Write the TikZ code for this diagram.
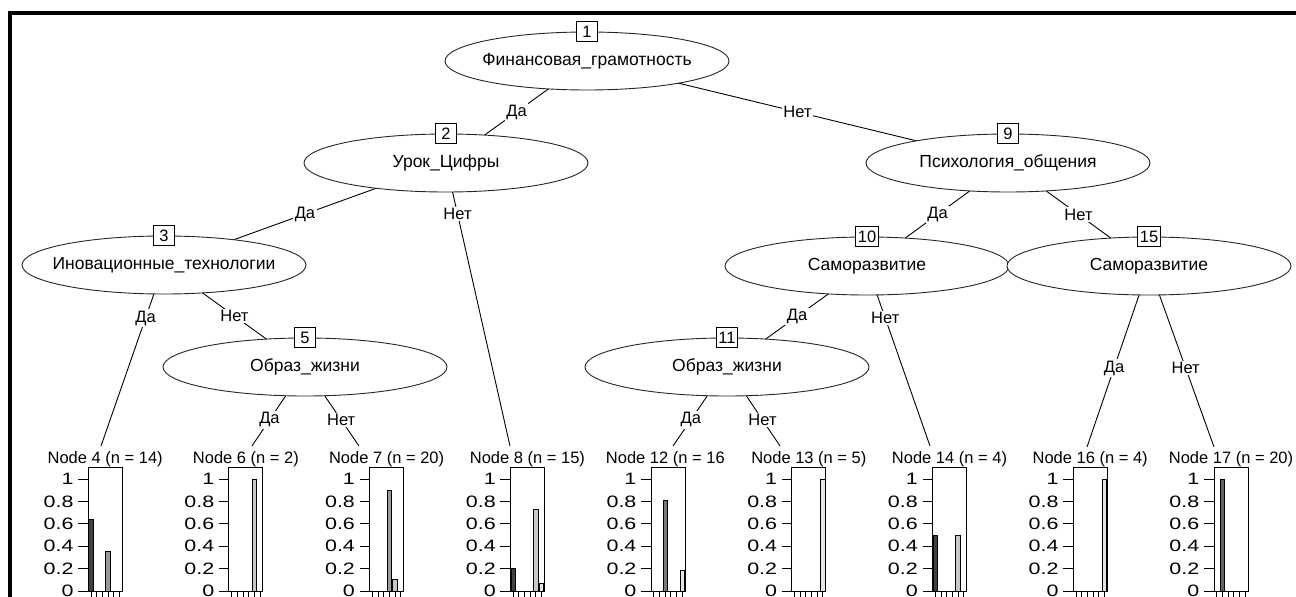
\documentclass[tikz,border=0pt]{standalone}
\usepackage{fontspec}
\usepackage{graphicx}
\setmainfont{Liberation Sans}
\usetikzlibrary{shapes.geometric,backgrounds}
\definecolor{c1}{gray}{0.25}
\definecolor{c2}{gray}{0.38}
\definecolor{c3}{gray}{0.48}
\definecolor{c4}{gray}{0.6}
\definecolor{c5}{gray}{0.78}
\definecolor{c6}{gray}{0.9}
\newcommand\leafpanel[4]{%
  \node[ltitle] (t#1) at (#2,459) {#3};
  \node[plotbox] (p#1) at (#2,529.25) {};
  \foreach \v/\lab [count=\k] in {0/0,0.2/0.2,0.4/0.4,0.6/0.6,0.8/0.8,1/1}{
    \draw[axisline] ({#2-17},{591-112*\v}) -- ++(-10,0);
    \node[ylab] (y#1x\k) at ({#2-31.5},{591-112*\v}) {\scalebox{1.3}[1]{\lab}};
  }
  \foreach \s/\val in {#4}{
    \draw[barstyle,fill=c\s] ({#2-17+(\s-1)*34/6+0.6},591) rectangle ({#2-17+\s*34/6-0.6},{591-112*\val});
  }
  \foreach \s in {1,...,6}{
    \draw[axisline] ({#2-17+(\s-0.5)*34/6},591) -- ++(0,8);
  }
}
\newcommand\ztext[1]{\makebox[0pt][c]{#1}}
\begin{document}
\begin{tikzpicture}[x=1pt,y=-1pt,
  font=\fontsize{16.5}{20}\selectfont,
  inner/.style={ellipse, draw=black!85, fill=white, minimum width=284pt, minimum height=58pt, inner sep=0pt, line width=0.9pt, font=\fontsize{17.5}{20}\selectfont},
  idbox/.style={draw, fill=white, minimum width=21pt, minimum height=20pt, inner sep=2pt, line width=1pt},
  elab/.style={fill=white, inner sep=1.5pt},
  edgeline/.style={line width=0.9pt},
  ltitle/.style={inner sep=0pt},
  plotbox/.style={draw, minimum width=34pt, minimum height=123.5pt, inner sep=0pt, line width=1pt},
  axisline/.style={line width=1pt},
  ylab/.style={anchor=east, inner sep=0pt},
  barstyle/.style={draw, line width=0.8pt}]
\useasboundingbox (0,0) rectangle (1296,597);
\draw[line width=4pt] (10,605) -- (10,12.5) -- (1305,12.5);

% inner nodes
\node[inner] (n1) at (587,61) {\ztext{Финансовая\_грамотность}};
\node[inner] (n2) at (446,163) {\ztext{Урок\_Цифры}};
\node[inner] (n9) at (1008,163) {\ztext{Психология\_общения}};
\node[inner] (n3) at (164,265) {\ztext{Иновационные\_технологии}};
\node[inner] (n10) at (867,266) {\ztext{Саморазвитие}};
\node[inner] (n15) at (1149,266) {\ztext{Саморазвитие}};
\node[inner] (n5) at (305,367) {\ztext{Образ\_жизни}};
\node[inner] (n11) at (727,367) {\ztext{Образ\_жизни}};

\node[idbox] (b1) at (n1.north) {1};
\node[idbox] (b2) at (n2.north) {2};
\node[idbox] (b9) at (n9.north) {9};
\node[idbox] (b3) at (n3.north) {3};
\node[idbox] (b10) at (n10.north) {10};
\node[idbox] (b15) at (n15.north) {15};
\node[idbox] (b5) at (n5.north) {5};
\node[idbox] (b11) at (n11.north) {11};

% leaf attach points
\coordinate (a4) at (101,446);
\coordinate (a6) at (252,446);
\coordinate (a7) at (359,446);
\coordinate (a8) at (510,446);
\coordinate (a12) at (673,446);
\coordinate (a13) at (780,446);
\coordinate (a14) at (930,446);
\coordinate (a16) at (1087,447);
\coordinate (a17) at (1214,447);

% leaves
\leafpanel{4}{105.2}{Node 4 (n = 14)}{1/0.643,4/0.357}
\leafpanel{6}{245.9}{Node 6 (n = 2)}{5/1}
\leafpanel{7}{386.6}{Node 7 (n = 20)}{4/0.9,5/0.1}
\leafpanel{8}{527.4}{Node 8 (n = 15)}{1/0.2,5/0.733,6/0.067}
\leafpanel{12}{668.1}{Node 12 (n = 16\phantom{)}}{3/0.8125,6/0.1875}
\leafpanel{13}{808.8}{Node 13 (n = 5)}{6/1}
\leafpanel{14}{949.5}{Node 14 (n = 4)}{1/0.5,5/0.5}
\leafpanel{16}{1090.2}{Node 16 (n = 4)}{6/1}
\leafpanel{17}{1231}{Node 17 (n = 20)}{2/1}

\begin{pgfonlayer}{background}
\draw[edgeline] (n1.center) -- node[elab,pos=0.5] (e2) {Да} (n2.center);
\draw[edgeline] (n1.center) -- node[elab,pos=0.5] (e9) {Нет} (n9.center);
\draw[edgeline] (n2.center) -- node[elab,pos=0.5] (e3) {Да} (n3.center);
\draw[edgeline] (n2.center) -- node[elab,pos=0.18] (e8) {Нет} (a8);
\draw[edgeline] (n9.center) -- node[elab,pos=0.5] (e10) {Да} (n10.center);
\draw[edgeline] (n9.center) -- node[elab,pos=0.5] (e15) {Нет} (n15.center);
\draw[edgeline] (n3.center) -- node[elab,pos=0.293] (e4) {Да} (a4);
\draw[edgeline] (n3.center) -- node[elab,pos=0.5] (e5) {Нет} (n5.center);
\draw[edgeline] (n10.center) -- node[elab,pos=0.5] (e11) {Да} (n11.center);
\draw[edgeline] (n10.center) -- node[elab,pos=0.29] (e14) {Нет} (a14);
\draw[edgeline] (n5.center) -- node[elab,pos=0.67] (e6) {Да} (a6);
\draw[edgeline] (n5.center) -- node[elab,pos=0.67] (e7) {Нет} (a7);
\draw[edgeline] (n11.center) -- node[elab,pos=0.67] (e12) {Да} (a12);
\draw[edgeline] (n11.center) -- node[elab,pos=0.67] (e13) {Нет} (a13);
\draw[edgeline] (n15.center) -- node[elab,pos=0.564] (e16) {Да} (a16);
\draw[edgeline] (n15.center) -- node[elab,pos=0.564] (e17) {Нет} (a17);
\end{pgfonlayer}
\end{tikzpicture}
\end{document}
